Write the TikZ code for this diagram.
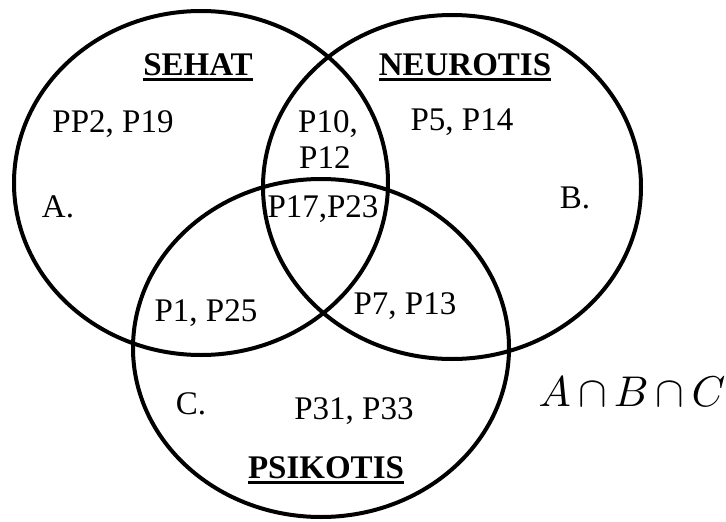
\documentclass[tikz,border=0pt]{standalone}
\usepackage{fontspec}
\setmainfont{Liberation Serif}
\newcommand\myul[1]{\setbox0\hbox{#1}\rlap{\raisebox{-6pt}{\rule{\wd0}{2.6pt}}}\box0}
\begin{document}
\begin{tikzpicture}[x=1pt,y=-1pt,
  setline/.style={line width=4pt},
  lbl/.style={anchor=base,inner sep=0pt,font=\fontsize{33}{36}\selectfont},
  head/.style={lbl,font=\fontsize{33}{36}\selectfont\bfseries}]
\useasboundingbox (0,0) rectangle (726,522);
% sets
\draw[setline] (201,183) ellipse [x radius=187, y radius=172];
\draw[setline] (452,187) ellipse [x radius=189, y radius=172];
\draw[setline] (321,348) ellipse [x radius=188, y radius=169];
% headings
\node[head] (sehat) at (198,75) {\myul{SEHAT}};
\node[head] (neurotis) at (465,75) {\myul{NEUROTIS}};
\node[head] (psikotis) at (326,478) {\myul{PSIKOTIS}};
% members
\node[lbl] (pp2) at (113,132) {PP2, P19};
\node[lbl,anchor=base west] (p10) at (298,132) {P10,};
\node[lbl,anchor=base west] (p12) at (299,168) {P12};
\node[lbl] (p5) at (462,130) {P5, P14};
\node[lbl] (la) at (58,217) {A.};
\node[lbl] (lb) at (575,208) {B.};
\node[lbl] (p17) at (323,217) {P17,P23};
\node[lbl] (p1) at (206,321) {P1, P25};
\node[lbl] (p7) at (405,314) {P7, P13};
\node[lbl] (lc) at (191,414) {C.};
\node[lbl] (p31) at (354,419) {P31, P33};
\node[anchor=base,inner sep=0pt,scale=4.3] (abc) at (632,406) {$A\,{\cap}\,B\,{\cap}\,C$};
\end{tikzpicture}
\end{document}
